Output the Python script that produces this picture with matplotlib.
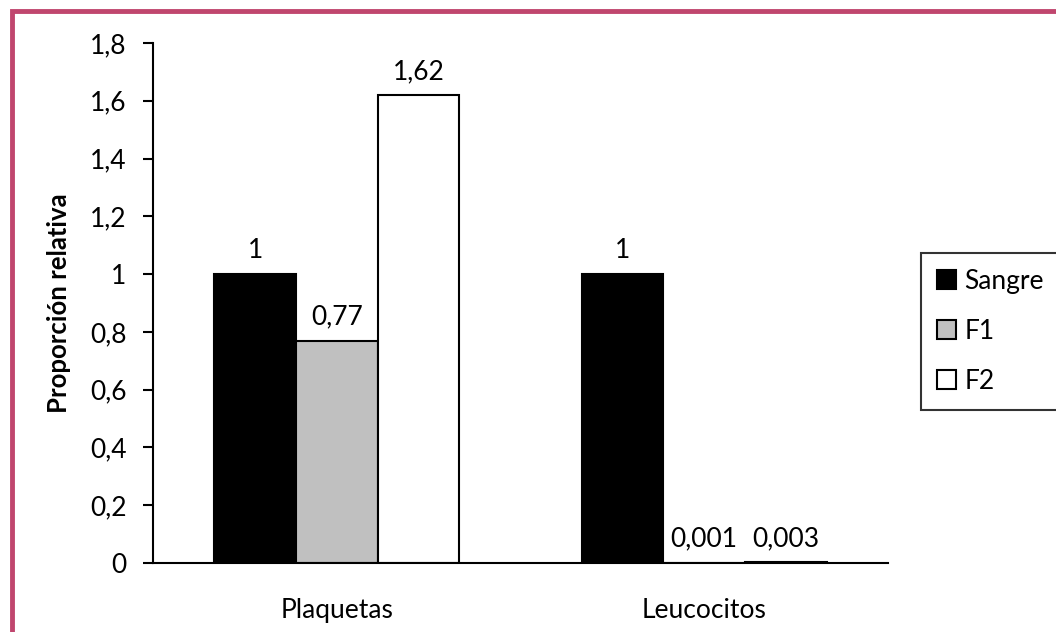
import numpy as np
import matplotlib.pyplot as plt
from matplotlib.patches import Rectangle

plt.rcParams["font.family"] = ["Lato", "DejaVu Sans"]

categories = ["Plaquetas", "Leucocitos"]
series = ["Sangre", "F1", "F2"]
values = {
    "Sangre": [1, 1],
    "F1": [0.77, 0.001],
    "F2": [1.62, 0.003],
}
value_labels = {
    "Sangre": ["1", "1"],
    "F1": ["0,77", "0,001"],
    "F2": ["1,62", "0,003"],
}
colors = {"Sangre": "#000000", "F1": "#C0C0C0", "F2": "#FFFFFF"}
y_ticks = [0, 0.2, 0.4, 0.6, 0.8, 1.0, 1.2, 1.4, 1.6, 1.8]

FS = 19

fig = plt.figure(figsize=(10.56, 6.32), dpi=100)
ax = fig.add_axes([0.1449, 0.1092, 0.6960, 0.8228])

x = np.arange(len(categories))
width = 0.222
for i, name in enumerate(series):
    pos = x + (i - 1) * width
    bars = ax.bar(pos, values[name], width, color=colors[name],
                  edgecolor="black", linewidth=1.5, label=name)
    for b, txt in zip(bars, value_labels[name]):
        ax.annotate(txt, (b.get_x() + b.get_width() / 2, b.get_height()),
                    xytext=(0, 8), textcoords="offset points",
                    ha="center", va="bottom", fontsize=FS)

ax.set_xlim(-0.5, 1.5)
ax.set_ylim(0, 1.8)
ax.set_yticks(y_ticks)
ax.set_yticklabels([f"{v:g}".replace(".", ",") for v in y_ticks], fontsize=FS)
ax.set_xticks(x)
ax.set_xticklabels(categories, fontsize=FS)
ax.tick_params(axis="x", length=0, pad=25)
ax.tick_params(axis="y", length=7, width=1.5, pad=12)
ax.set_ylabel("Proporción relativa", fontsize=18.5, fontweight="bold", labelpad=14)

for side in ["top", "right"]:
    ax.spines[side].set_visible(False)
ax.spines["left"].set_linewidth(1.5)
ax.spines["bottom"].set_linewidth(1.5)

leg = fig.legend(loc="upper left", bbox_to_anchor=(0.872, 0.6), fontsize=FS,
                 frameon=True, fancybox=False, edgecolor="black",
                 labelspacing=0.95, handlelength=0.75, handleheight=0.75,
                 handletextpad=0.3, borderpad=0.6, borderaxespad=0)
leg.get_frame().set_linewidth(1.5)

# outer frame around the chart area
fig.patches.append(Rectangle((12 / 1056, -0.1), 1.2, 1 - 11 / 632 + 0.1,
                             transform=fig.transFigure, fill=False,
                             edgecolor="#C0466E", linewidth=3.5))

fig.savefig("out.png", dpi=100)
